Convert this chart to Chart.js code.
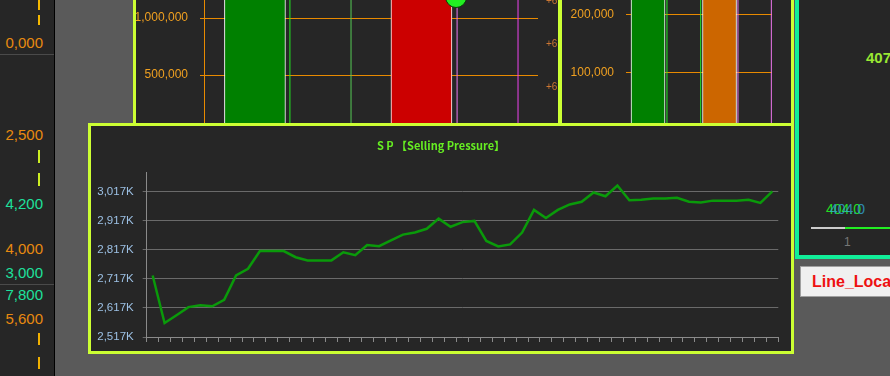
<!DOCTYPE html>
<html>
<head>
<meta charset="utf-8">
<script src="https://cdn.jsdelivr.net/npm/chart.js@4.4.0/dist/chart.umd.min.js"></script>
<style>
html, body { margin: 0; padding: 0; }
body { width: 890px; height: 376px; background: #5a5a5a; position: relative; overflow: hidden; font-family: "Liberation Sans", Arial, sans-serif; }
#leftStrip { position: absolute; left: 0; top: 0; width: 54px; height: 376px; background: #262626; border-right: 1px solid #000; }
#leftStrip .v { position: absolute; right: 11px; font-size: 15px; line-height: 18px; }
#leftStrip .o { color: #e88a10; }
#leftStrip .g { color: #1ee09c; }
#leftStrip .hr { position: absolute; left: 0; width: 54px; height: 1px; background: #4a4a4a; }
#leftStrip .dash { position: absolute; left: 38px; width: 2px; }
#p1 { position: absolute; left: 133px; top: -10px; width: 422px; height: 150px; border-left: 3px solid #ccff33; border-right: 4px solid #ccff33; background: #262626; overflow: hidden; }
#p2 { position: absolute; left: 562px; top: -10px; width: 229px; height: 150px; border-right: 3px solid #ccff33; background: #262626; overflow: hidden; }
#p1 canvas { position: absolute; left: 0; top: -29px; }
#p2 canvas { position: absolute; left: 0; top: -34px; }
.r6 { position: absolute; left: 410px; font-size: 10px; line-height: 12px; color: #cc7733; }
#p3 { position: absolute; left: 795px; top: -10px; width: 100px; height: 265px; border-left: 4px solid #11ee99; border-bottom: 4px solid #11ee99; background: #262626; overflow: hidden; }
#p3 span { position: absolute; }
#btn { position: absolute; left: 800px; top: 266px; width: 100px; height: 31px; background: #f0f0f0; border: 1px solid #a0a0a0; color: #ee1111; font-weight: bold; font-size: 16px; line-height: 29px; padding-left: 11px; box-sizing: border-box; white-space: nowrap; overflow: hidden; }
#mainPanel { position: absolute; left: 88px; top: 123px; width: 700px; height: 225px; border: 3px solid #ccff33; background: #262626; z-index: 5; }
</style>
</head>
<body>

<div id="leftStrip">
  <div class="dash" style="top:0;height:25px;background:repeating-linear-gradient(to bottom,#f5b800 0 10px,transparent 10px 15px);"></div>
  <span class="v o" style="top:34px">0,000</span>
  <div class="hr" style="top:54px"></div>
  <span class="v o" style="top:126px">2,500</span>
  <div class="dash" style="top:150px;height:37px;background:repeating-linear-gradient(to bottom,#ccee22 0 13px,transparent 13px 23px);"></div>
  <span class="v g" style="top:195px">4,200</span>
  <span class="v o" style="top:240px">4,000</span>
  <span class="v g" style="top:264px">3,000</span>
  <div class="hr" style="top:284px"></div>
  <span class="v g" style="top:286px">7,800</span>
  <span class="v o" style="top:310px">5,600</span>
  <div class="dash" style="top:333px;height:37px;background:repeating-linear-gradient(to bottom,#f0b000 0 12px,transparent 12px 24px);"></div>
</div>

<div id="p1">
  <canvas id="volChart" width="422" height="171"></canvas>
  <span class="r6" style="top:5px">+6</span>
  <span class="r6" style="top:48px">+6</span>
  <span class="r6" style="top:91px">+6</span>
</div>

<div id="p2">
  <canvas id="amtChart" width="229" height="175"></canvas>
</div>

<div id="p3">
  <span style="left:67px;top:59px;color:#99e833;font-weight:bold;font-size:15px;">407</span>
  <span style="left:27px;top:211px;color:#22dd22;font-size:14px;">404.0</span>
  <span style="left:31px;top:211px;color:#33aadd;font-size:14px;opacity:0.75;">404.0</span>
  <span style="left:12px;top:237px;width:34px;height:2px;background:#cccccc;"></span>
  <span style="left:46px;top:237px;width:60px;height:2px;background:#22ee22;"></span>
  <span style="left:45px;top:245px;color:#777;font-size:12px;">1</span>
</div>

<div id="btn">Line_Location</div>

<div id="mainPanel">
  <canvas id="spChart" width="700" height="225"></canvas>
</div>

<script>
// S P (Selling Pressure) - values in thousands
const spDays = ['1','2','3','4','5','6','7','8','9','10','11','12','13','14','15','16','17','18','19','20',
  '21','22','23','24','25','26','27','28','29','30','31','32','33','34','35','36','37','38','39','40',
  '41','42','43','44','45','46','47','48','49','50','51','52','53'];
const spValues = [2729, 2565, 2592, 2620, 2626, 2623, 2645, 2729, 2752, 2813,
  2813, 2813, 2792, 2781, 2781, 2781, 2809, 2799, 2834, 2830,
  2850, 2870, 2877, 2890, 2925, 2897, 2913, 2917, 2848, 2829,
  2836, 2877, 2955, 2927, 2955, 2974, 2983, 3015, 3002, 3039,
  2988, 2990, 2994, 2994, 2997, 2983, 2981, 2987, 2987, 2987,
  2990, 2979, 3019];
const spTicks = [2517, 2617, 2717, 2817, 2917, 3017];
const spMin = 2517;
const spMax = 3085;

// top panels (mostly hidden behind the S P panel)
const volBarsX = [1, 2];
const volBarsY = [1350000, 1300000];
const volBarColors = ['#008000', '#cc0000'];
const volLinesX = [1.21, 1.577, 2.214, 2.58];
const volLineColors = ['#22ee22', '#55cc55', '#ee77ee', '#ee44ee'];
const volMarkX = [2.208];
const volMarkY = [1184000];
const volMax = 1500000;

const amtBarsX = [1, 2];
const amtBarsY = [265000, 250000];
const amtBarColors = ['#008000', '#cc6600'];
const amtLinesX = [1.265, 1.737, 2.258, 2.725];
const amtLineColors = ['#22ee22', '#22ee22', '#ee77ee', '#ee77ee'];
const amtMax = 300000;

document.addEventListener('DOMContentLoaded', function() {
    Chart.defaults.font.family = '"Liberation Sans", Arial, sans-serif';
    Chart.defaults.animation = false;
    Chart.defaults.layout.autoPadding = false;

    const fmt = v => Number(v).toLocaleString('en-US');

    // small bar panel with vertical marker lines
    function barPanel(canvasId, cfg) {
        const datasets = [{
            type: 'bar',
            data: cfg.barsX.map((x, i) => ({ x: x, y: cfg.barsY[i] })),
            backgroundColor: cfg.barColors,
            borderColor: '#ffffff',
            borderWidth: 1,
            barThickness: cfg.barWidth,
            order: 2
        }];
        cfg.linesX.forEach((x, i) => {
            datasets.push({
                type: 'line',
                data: [{ x: x, y: 0 }, { x: x, y: cfg.max }],
                borderColor: cfg.lineColors[i],
                borderWidth: 1,
                pointRadius: 0,
                order: 1
            });
        });
        if (cfg.markX) {
            datasets.push({
                type: 'line',
                data: cfg.markX.map((x, i) => ({ x: x, y: cfg.markY[i] })),
                showLine: false,
                pointRadius: 10.5,
                pointBackgroundColor: '#22ee22',
                pointBorderColor: '#0a3a0a',
                pointBorderWidth: 1,
                order: 0
            });
        }
        return new Chart(document.getElementById(canvasId).getContext('2d'), {
            data: { datasets: datasets },
            options: {
                responsive: false,
                layout: { autoPadding: false, padding: { left: 0, right: cfg.padRight, top: 0, bottom: 0 } },
                plugins: { legend: { display: false }, tooltip: { enabled: false } },
                scales: {
                    x: { type: 'linear', display: false, offset: false, min: cfg.xMin, max: cfg.xMax },
                    y: {
                        min: 0, max: cfg.max,
                        ticks: { stepSize: cfg.step, color: '#f0a020', font: { size: 12 }, padding: 12, callback: fmt },
                        grid: { color: '#e88a00', tickLength: 4 },
                        border: { display: cfg.showAxis, color: '#e88a00' },
                        afterFit: s => { s.width = 68; s.paddingTop = 0; s.paddingBottom = 0; }
                    }
                }
            }
        });
    }

    barPanel('volChart', {
        barsX: volBarsX, barsY: volBarsY, barColors: volBarColors, barWidth: 61,
        linesX: volLinesX, lineColors: volLineColors, markX: volMarkX, markY: volMarkY,
        max: volMax, step: 500000, xMin: 0.694, xMax: 2.7, padRight: 20, showAxis: true
    });

    barPanel('amtChart', {
        barsX: amtBarsX, barsY: amtBarsY, barColors: amtBarColors, barWidth: 34,
        linesX: amtLinesX, lineColors: amtLineColors,
        max: amtMax, step: 100000, xMin: 0.748, xMax: 2.734, padRight: 19, showAxis: false
    });

    // S P line chart
    const ctx = document.getElementById('spChart').getContext('2d');
    new Chart(ctx, {
        type: 'line',
        data: {
            labels: spDays,
            datasets: [{
                label: 'S P',
                data: spValues,
                borderColor: '#0a9a0a',
                borderWidth: 2.5,
                pointRadius: 0,
                tension: 0,
                fill: false
            }]
        },
        options: {
            responsive: false,
            layout: { autoPadding: false, padding: 0 },
            plugins: {
                legend: { display: false },
                tooltip: { enabled: false },
                title: {
                    display: true,
                    text: 'S P 【Selling Pressure】',
                    color: '#66ee22',
                    font: { family: '"Noto Sans CJK JP", sans-serif', size: 11, weight: 'bold' },
                    padding: { top: 13, bottom: 20 }
                }
            },
            scales: {
                x: {
                    offset: true,
                    ticks: { display: false, autoSkip: false },
                    grid: { offset: true, drawOnChartArea: false, tickLength: 5, color: '#8a8a8a' },
                    border: { color: '#8a8a8a' },
                    afterFit: s => { s.height = 14; }
                },
                y: {
                    min: spMin, max: spMax,
                    afterBuildTicks: s => { s.ticks = spTicks.map(v => ({ value: v })); },
                    ticks: {
                        color: '#9cc0e4',
                        font: { size: 11.5 },
                        padding: 9,
                        callback: v => fmt(v) + 'K'
                    },
                    grid: { color: '#6a6a6a', tickLength: 4 },
                    border: { color: '#8a8a8a' },
                    afterFit: s => { s.width = 55.7; s.paddingTop = 0; s.paddingBottom = 0; }
                },
                // empty spacer on the right so the title centres like the original
                yRight: {
                    position: 'right',
                    display: true,
                    min: spMin, max: spMax,
                    ticks: { display: false },
                    grid: { drawOnChartArea: false, drawTicks: false },
                    border: { display: false },
                    afterFit: s => { s.width = 12.7; s.paddingTop = 0; s.paddingBottom = 0; }
                }
            }
        }
    });
});
</script>
</body>
</html>
